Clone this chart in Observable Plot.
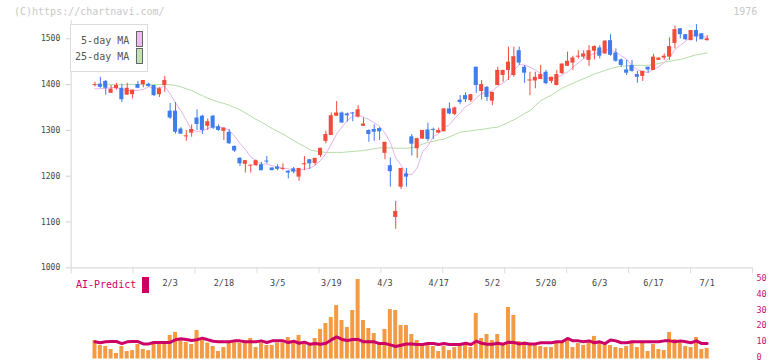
<!DOCTYPE html>
<html><head><meta charset="utf-8">
<script src="https://cdn.jsdelivr.net/npm/d3@7"></script>
<script src="https://cdn.jsdelivr.net/npm/@observablehq/plot@0.6"></script>
<style>
body{margin:0;background:#fff;}
#wrap{position:relative;width:772px;height:361px;overflow:hidden;font-family:"DejaVu Sans Mono",monospace;}
#wrap svg{position:absolute;left:0;overflow:visible;}
.t{position:absolute;white-space:nowrap;line-height:12px;}
</style></head><body><div id="wrap"></div>
<script>
// Daily candles (index 0 = 1/14 ... index 114 = 7/1)
const open  = [1399,1401,1407,1381,1391,1392,1377,1378,1400,1400,1401,1398,1378,1398,1342,1342,1303,1286,1294,1327,1331,1309,1331,1308,1298,1296,1265,1239,1226,1222,1223,1225,1233,1218,1220,1215,1211,1216,1198,1225,1236,1228,1245,1276,1289,1331,1338,1336,1338,1329,1309,1300,1302,1304,1250,1223,1110,1176,1205,1286,1260,1281,1301,1302,1294,1297,1347,1335,1366,1376,1365,1438,1385,1394,1364,1398,1420,1431,1420,1474,1438,1408,1408,1411,1427,1407,1398,1424,1440,1447,1460,1460,1453,1473,1480,1467,1496,1469,1454,1432,1442,1422,1418,1438,1431,1453,1458,1460,1490,1522,1509,1496,1518,1511,1496];
const high  = [1405,1416,1409,1398,1403,1401,1403,1388,1407,1409,1403,1398,1393,1418,1359,1361,1306,1300,1312,1345,1333,1325,1333,1312,1305,1302,1266,1241,1234,1224,1235,1230,1243,1218,1225,1227,1212,1219,1217,1243,1236,1239,1261,1298,1338,1363,1340,1338,1339,1354,1327,1301,1312,1306,1274,1240,1145,1217,1217,1291,1283,1300,1316,1305,1305,1347,1360,1351,1376,1382,1378,1438,1409,1396,1383,1438,1431,1482,1482,1482,1442,1427,1427,1442,1431,1416,1431,1445,1471,1462,1474,1474,1485,1485,1485,1496,1509,1478,1456,1453,1453,1429,1429,1438,1466,1458,1467,1502,1528,1522,1509,1518,1531,1511,1507];
const low   = [1395,1392,1377,1381,1388,1361,1377,1369,1391,1393,1394,1374,1372,1383,1324,1292,1291,1276,1285,1300,1291,1300,1302,1298,1278,1269,1252,1221,1207,1207,1221,1212,1227,1212,1212,1212,1194,1205,1189,1212,1215,1223,1241,1271,1289,1331,1316,1318,1319,1327,1309,1274,1276,1278,1236,1176,1084,1171,1176,1244,1239,1281,1276,1280,1294,1297,1334,1332,1356,1361,1361,1381,1366,1363,1354,1398,1405,1409,1416,1442,1403,1376,1391,1411,1400,1402,1397,1422,1440,1431,1456,1456,1440,1454,1456,1466,1462,1449,1438,1420,1427,1403,1407,1425,1431,1453,1453,1453,1478,1500,1496,1496,1493,1498,1495];
const close = [1399,1394,1392,1390,1398,1367,1392,1388,1392,1409,1396,1376,1391,1409,1327,1296,1292,1288,1302,1313,1300,1319,1305,1300,1305,1271,1255,1227,1234,1224,1234,1212,1231,1212,1215,1217,1207,1209,1217,1227,1227,1239,1261,1291,1332,1338,1316,1332,1336,1345,1314,1291,1296,1297,1274,1210,1123,1217,1198,1270,1282,1300,1280,1300,1300,1347,1336,1349,1361,1367,1378,1398,1400,1372,1383,1431,1431,1449,1461,1447,1425,1410,1416,1422,1402,1416,1422,1445,1451,1458,1462,1467,1474,1483,1462,1495,1464,1451,1442,1425,1429,1416,1429,1432,1460,1458,1462,1483,1520,1509,1498,1518,1504,1498,1500];
// Moving averages as drawn
const ma5  = [1391,1391,1392,1393,1394.6,1388.2,1387.8,1387,1387.4,1389.6,1395.4,1392.2,1392.8,1396.2,1379.8,1359.8,1343,1322.2,1300.8,1298,1298.8,1304.2,1307.8,1307.4,1305.8,1300,1287.2,1271.6,1258.4,1242,1234.6,1226,1227,1222.6,1221,1217.4,1216.4,1211.8,1212.8,1215.2,1217.4,1223.8,1234.2,1249,1270,1292.2,1307.6,1321.8,1331,1333.6,1328.8,1323.8,1316.6,1308.6,1294.4,1273.6,1240,1224.2,1204.4,1203.6,1218,1253.4,1266,1286.6,1292.6,1305.6,1312.8,1326.6,1338.6,1352,1358.2,1370.6,1380.8,1383,1386.2,1396.8,1403.4,1413.2,1431,1443.8,1442.6,1438.2,1431.6,1423.8,1414.8,1413,1415.6,1421.4,1427.2,1438.4,1447.4,1456.4,1462.2,1468.6,1469.4,1476.2,1475.6,1471,1462.8,1455.4,1442.2,1432.6,1428.2,1426.2,1433.2,1439,1448.2,1459,1476.6,1486.4,1494.4,1505.6,1509.8,1505.4,1503.6];
const ma25 = [1400,1400,1400,1400,1400,1400,1400,1400,1400,1400,1400,1400,1400,1400,1400,1398,1395,1391,1387,1381,1376,1370,1366,1362,1359,1355,1350,1345,1338,1331,1324,1318,1311,1304,1298,1292,1285,1278,1271,1265,1258,1255,1253,1252,1252,1252,1252,1253,1254,1255,1256,1258,1260,1262,1262,1262,1261,1261,1261,1262,1266,1270,1274,1276,1279,1281,1286,1291,1296,1298,1299,1301,1302,1304,1306,1307,1312,1318,1323,1330,1337,1343,1354,1365,1371,1377,1385,1392,1398,1403,1408,1413,1418,1423,1427,1431,1435,1438,1440,1441,1442,1442,1442,1442,1444,1446,1449,1451,1453,1455,1458,1462,1465,1467,1469];
// Lower panel
const volume = [11.6,8.5,7.9,6.0,3.5,7.9,4.7,5.3,9.1,6.0,5.3,10.8,10.2,10.2,14.8,16.7,11.6,10.4,9.1,17.9,12.0,10.0,7.9,4.7,7.2,10.0,10.6,10.0,10.0,12.9,7.2,10.0,8.5,8.5,10.0,10.0,13.5,10.0,14.8,10.2,8.5,12.9,18.6,22.3,26.1,33.6,24.2,19.8,30.5,50,24.2,19.2,16.0,9.7,18.6,31.1,30.5,21.1,21.1,15.4,11.6,8.5,9.7,7.9,4.7,7.9,5.3,7.2,8.5,9.7,7.2,28.6,12.9,15.4,11.6,15.4,9.7,32.4,27.4,11.0,10.6,9.4,9.4,7.9,7.2,7.2,10.6,10.6,11.6,7.2,9.7,8.5,10.6,14.2,10.6,9.1,8.5,7.2,6.6,7.9,10.6,7.2,10.6,4.7,9.1,6.0,5.3,16.7,12.2,11.6,7.9,7.2,13.5,6.0,6.6];
const aiPredict = [10.8,10.2,10.8,11.0,11.0,9.7,10.8,11.0,11.0,9.5,9.5,10.4,10.4,10.4,10.4,12.1,12.7,12.3,11.6,12.1,13.1,12.1,11.2,10.8,10.8,10.8,11.4,11.4,10.8,10.8,10.8,11.4,10.4,11.4,11.4,11.4,10.4,11.2,9.9,10.6,9.3,9.7,9.3,9.9,12.0,13.9,12.3,11.6,12.3,12.3,10.8,10.8,10.8,9.7,9.7,8.9,7.9,8.7,9.5,9.5,9.1,9.1,9.7,9.7,9.1,9.7,9.1,9.1,9.1,9.9,9.1,11.2,9.9,9.3,9.3,9.9,9.3,10.6,10.4,9.5,9.9,9.5,9.5,10.2,10.2,10.2,10.8,10.8,12.9,11.4,11.4,10.8,11.4,10.2,10.8,9.7,12.0,11.4,10.2,10.2,10.8,10.8,10.8,10.8,10.8,10.8,11.4,11.4,10.8,11.4,10.8,10.2,11.4,9.7,9.7];
const dateLabels = ["2/3","2/18","3/5","3/19","4/3","4/17","5/2","5/20","6/3","6/17","7/1"];
const dateLabelIndex = [14,24,34,44,54,64,74,84,94,104,114];
const priceTicks = [1000,1100,1200,1300,1400,1500];
const volumeTicks = [0,10,20,30,40,50];

const RED = "#f04b3b", BLUE = "#3f7ced";
const wrap = document.getElementById("wrap");
const n = close.length;
const idx = d3.range(n);
const candles = idx.map(i => {
  let lo = Math.min(open[i], close[i]), hi = Math.max(open[i], close[i]);
  if (hi - lo < 2.2) { const m = (hi + lo) / 2; lo = m - 1.1; hi = m + 1.1; }
  return {i, h: high[i], l: low[i], lo, hi, up: close[i] >= open[i]};
});
const xDomain = [-4.43, 122.44];
const xTicks = d3.range(12).map(k => xDomain[0] + k * (xDomain[1] - xDomain[0]) / 11);

const main = Plot.plot({
  width: 772, height: 275,
  marginLeft: 70.7, marginRight: 20, marginTop: 20, marginBottom: 7.7,
  x: {domain: xDomain, axis: null, label: null},
  y: {domain: [1000, 1540], axis: null, label: null},
  style: {background: "transparent", fontFamily: "DejaVu Sans Mono, monospace", fontSize: "8px", color: "#444", overflow: "visible"},
  marks: [
    Plot.axisY({ticks: priceTicks, tickSize: 5, tickPadding: 6, stroke: "#d0d0d0", fill: "#444", fontSize: 8, label: null, tickFormat: d => String(d)}),
    Plot.axisX({ticks: xTicks, tickSize: 6, stroke: "#dcdcdc", label: null, tickFormat: () => ""}),
    Plot.ruleY([1000], {stroke: "#dcdcdc", strokeWidth: 1.2}),
    Plot.ruleX([xDomain[0]], {stroke: "#dcdcdc", strokeWidth: 1.2}),
    Plot.line(idx, {x: i => i, y: i => ma25[i], stroke: "#b6dca6", strokeWidth: 1}),
    Plot.line(idx, {x: i => i, y: i => ma5[i], stroke: "#e8b2ee", strokeWidth: 1}),
    Plot.ruleX(candles, {x: "i", y1: "l", y2: "h", stroke: d => d.up ? RED : BLUE, strokeWidth: 1}),
    Plot.rect(candles, {x1: d => d.i - 0.38, x2: d => d.i + 0.38, y1: "lo", y2: "hi", fill: d => d.up ? RED : BLUE})
  ]
});
main.style.top = "0px";
wrap.appendChild(main);

const vol = Plot.plot({
  width: 772, height: 86,
  marginLeft: 70.7, marginRight: 20, marginTop: 4, marginBottom: 2.5,
  x: {domain: xDomain, axis: null, label: null},
  y: {domain: [0, 50], axis: null, label: null},
  style: {background: "transparent", fontFamily: "DejaVu Sans Mono, monospace", fontSize: "8.5px", overflow: "visible"},
  marks: [
    Plot.axisY({anchor: "right", ticks: volumeTicks, tickSize: 0, tickPadding: 4, dy: -1.5, label: null, fill: "#c8106a", fontSize: 8.5, tickFormat: d => String(d)}),
    Plot.rect(idx, {x1: i => i - 0.37, x2: i => i + 0.37, y1: 0, y2: i => volume[i], fill: "#f39a42"}),
    Plot.line(idx, {x: i => i, y: i => aiPredict[i], stroke: "#cc0066", strokeWidth: 3}),
    Plot.text(dateLabelIndex, {x: d => d, frameAnchor: "top", lineAnchor: "middle", dy: 4, text: (d, k) => dateLabels[k], fill: "#444", fontSize: 8.5})
  ]
});
vol.style.top = "275px";
wrap.appendChild(vol);

function addText(txt, left, centerY, size, color) {
  const d = document.createElement("div");
  d.className = "t";
  d.textContent = txt;
  d.style.left = left + "px";
  d.style.top = (centerY - 6) + "px";
  d.style.fontSize = size + "px";
  d.style.color = color;
  wrap.appendChild(d);
  return d;
}
function addBox(left, top, w, h, fill, border) {
  const d = document.createElement("div");
  d.style.position = "absolute";
  d.style.boxSizing = "border-box";
  d.style.left = left + "px"; d.style.top = top + "px";
  d.style.width = w + "px"; d.style.height = h + "px";
  d.style.background = fill;
  if (border) d.style.border = border;
  wrap.appendChild(d);
  return d;
}
addText("(C)https://chartnavi.com/", 14, 12.3, 10, "#c8c8c8");
addText("1976", 733.3, 12.3, 10, "#c8c8c8");
// legend
addBox(70.2, 24, 78, 48, "#fff", "1px solid #dcdcdc");
addText("5-day MA", 81.1, 40.7, 10, "#555");
addText("25-day MA", 75.1, 56.7, 10, "#555");
addBox(136, 31, 7, 16, "#ecbcee", "1px solid #666");
addBox(136, 48, 7, 16, "#c2e2b2", "1px solid #666");
// AI-Predict label
addText("AI-Predict", 76, 285, 10, "#cc0066");
addBox(142.3, 277.3, 6.5, 15.5, "#cc0060", null);
</script>
</body></html>
